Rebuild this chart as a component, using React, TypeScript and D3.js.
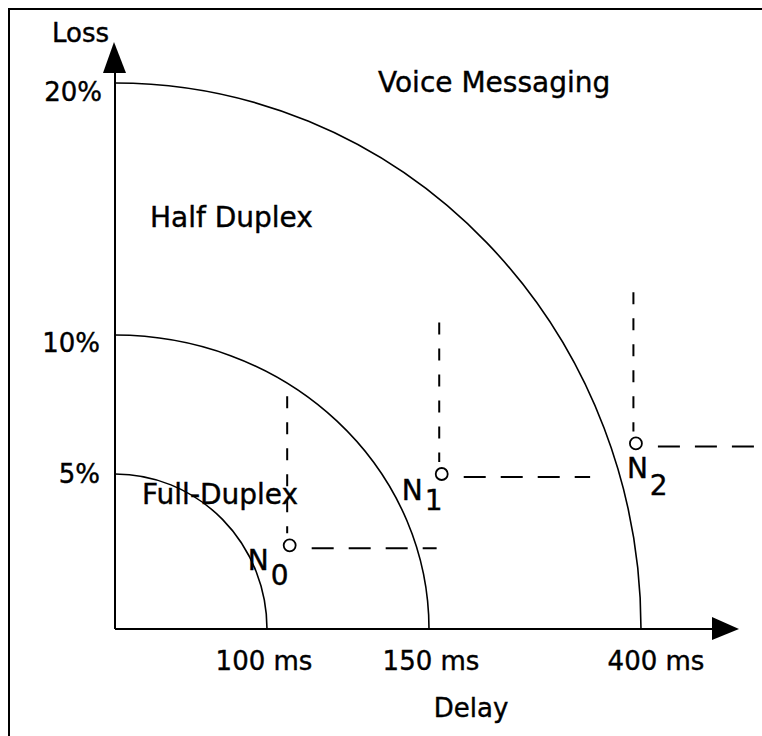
import React from "react";
import * as d3 from "d3";

// ---- data ----
const delayTicks = [100, 150, 400];
const delayTickLabels = ["100 ms", "150 ms", "400 ms"];
const lossTicks = [5, 10, 20];
const lossTickLabels = ["5%", "10%", "20%"];

// regions (quarter-ellipse boundaries)
const regionNames = ["Full-Duplex", "Half Duplex", "Voice Messaging"];
const regionDelay = [100, 150, 400];
const regionLoss = [5, 10, 20];

// operating points
const pointNames = ["0", "1", "2"];
const pointDelay = [107, 165, 394];
const pointLoss = [2.7, 5.0, 6.1];
// dashed guide extents (data units)
const guideLossTop = [7.8, 10.5, 11.7];
const guideDelayEnd = [159, 340, 534];

// ---- layout ----
const W = 762;
const H = 736;
const X0 = 115;
const Y0 = 629;
const xRange = [X0, 267, 429, 641];
const yRange = [Y0, 474, 335, 83];
const FONT = "'DejaVu Sans', Verdana, sans-serif";

const xLabelDx = [-3, 2, 15];
const yLabelDy = [9, 17, 18];
const yLabelX = [100, 100, 102];

const regionLabelPos = [
  { x: 142, y: 504 },
  { x: 150, y: 227 },
  { x: 378, y: 92 },
];

const pointLabelOffset = [
  { dx: -42, dy: 25, subDy: 15 },
  { dx: -40, dy: 26, subDy: 10 },
  { dx: -9, dy: 35, subDy: 17 },
];

export default function App() {
  const x = d3.scaleLinear().domain([0, ...delayTicks]).range(xRange);
  const y = d3.scaleLinear().domain([0, ...lossTicks]).range(yRange);

  const arcPath = (delay: number, loss: number) => {
    const rx = x(delay) - x(0);
    const ry = y(0) - y(loss);
    return `M${x(0)},${y(loss)} A${rx},${ry} 0 0 1 ${x(delay)},${y(0)}`;
  };

  const textStyle = { stroke: "#000", strokeWidth: 0.4 };

  return (
    <svg
      width={W}
      height={H}
      style={{ position: "absolute", left: 0, top: 0, background: "#fff" }}
      fontFamily={FONT}
    >
      <rect x={0} y={0} width={W} height={H} fill="#fff" />
      {/* frame */}
      <rect x={9} y={9} width={900} height={900} fill="none" stroke="#000" strokeWidth={2} />

      {/* axes */}
      <line x1={x(0)} y1={y(0)} x2={712} y2={y(0)} stroke="#000" strokeWidth={2} />
      <path d={`M712,${y(0) - 12} L739,${y(0)} L712,${y(0) + 11} Z`} fill="#000" />
      <line x1={x(0)} y1={y(0)} x2={x(0)} y2={72} stroke="#000" strokeWidth={2} />
      <path d={`M${x(0) - 12},73 L${x(0) - 1},42 L${x(0) + 11},73 Z`} fill="#000" />

      {/* axis titles */}
      <text x={52} y={42} fontSize={26} {...textStyle}>Loss</text>
      <text x={471} y={717} fontSize={26} textAnchor="middle" {...textStyle}>Delay</text>

      {/* ticks labels */}
      {delayTicks.map((d, i) => (
        <text key={"xt" + i} x={x(d) + xLabelDx[i]} y={670} fontSize={26} textAnchor="middle" {...textStyle}>
          {delayTickLabels[i]}
        </text>
      ))}
      {lossTicks.map((d, i) => (
        <text key={"yt" + i} x={yLabelX[i]} y={y(d) + yLabelDy[i]} fontSize={26} textAnchor="end" {...textStyle}>
          {lossTickLabels[i]}
        </text>
      ))}

      {/* region boundaries */}
      {regionDelay.map((d, i) => (
        <path key={"r" + i} d={arcPath(d, regionLoss[i])} fill="none" stroke="#000" strokeWidth={1.6} />
      ))}

      {/* region labels */}
      {regionNames.map((n, i) => (
        <text key={"rl" + i} x={regionLabelPos[i].x} y={regionLabelPos[i].y} fontSize={28} {...textStyle}>
          {n}
        </text>
      ))}

      {/* dashed guides */}
      {pointDelay.map((d, i) => {
        const px = x(d);
        const py = y(pointLoss[i]);
        return (
          <g key={"g" + i} stroke="#000" strokeWidth={2} fill="none">
            <line x1={px - 2.5} y1={y(guideLossTop[i])} x2={px - 2.5} y2={py - 12} strokeDasharray="12,14" />
            <line x1={px + 22} y1={py + 3} x2={x(guideDelayEnd[i])} y2={py + 3} strokeDasharray="22,15" />
          </g>
        );
      })}

      {/* points */}
      {pointDelay.map((d, i) => {
        const px = x(d);
        const py = y(pointLoss[i]);
        const o = pointLabelOffset[i];
        return (
          <g key={"p" + i}>
            <circle cx={px} cy={py} r={6} fill="#fff" stroke="#000" strokeWidth={1.8} />
            <text x={px + o.dx} y={py + o.dy} fontSize={28} {...textStyle}>
              N
              <tspan dx={2} dy={o.subDy}>{pointNames[i]}</tspan>
            </text>
          </g>
        );
      })}
    </svg>
  );
}
